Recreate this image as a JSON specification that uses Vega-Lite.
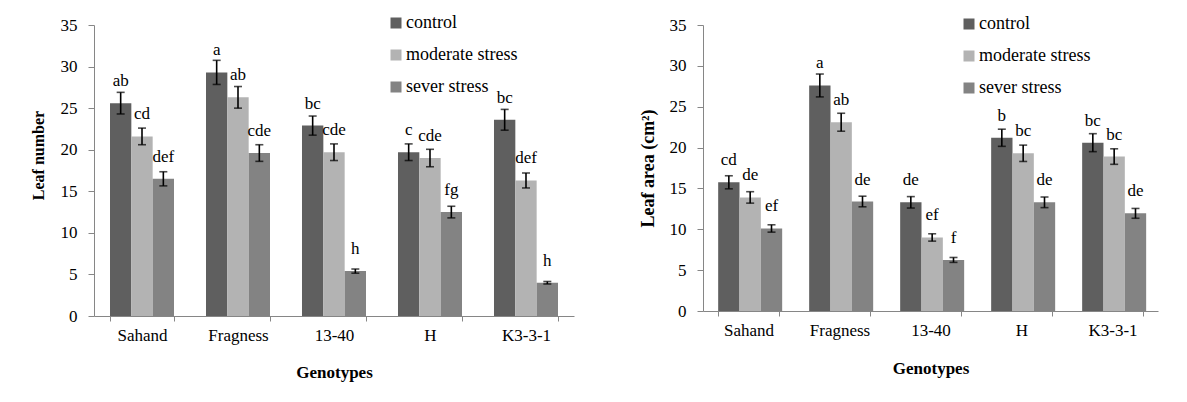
{
  "$schema": "https://vega.github.io/schema/vega-lite/v6.json",
  "background": "white",
  "padding": {"left": 30, "top": 14, "right": 5, "bottom": 5},
  "spacing": 65,
  "config": {
    "view": {"stroke": null},
    "font": "Times New Roman, Liberation Serif, serif",
    "axis": {"grid": false, "domainColor": "#868686", "tickColor": "#868686", "labelColor": "black", "titleColor": "black", "labelFont": "Times New Roman, Liberation Serif, serif", "titleFont": "Times New Roman, Liberation Serif, serif"},
    "legend": {"labelFont": "Times New Roman, Liberation Serif, serif"},
    "text": {"font": "Times New Roman, Liberation Serif, serif"}
  },
  "datasets": {
    "leafnumber": [
      {"geno": "Sahand", "treat": "control", "value": 25.6, "err": 1.3, "letter": "ab"},
      {"geno": "Sahand", "treat": "moderate stress", "value": 21.6, "err": 1.0, "letter": "cd"},
      {"geno": "Sahand", "treat": "sever stress", "value": 16.5, "err": 0.85, "letter": "def"},
      {"geno": "Fragness", "treat": "control", "value": 29.3, "err": 1.45, "letter": "a"},
      {"geno": "Fragness", "treat": "moderate stress", "value": 26.3, "err": 1.3, "letter": "ab"},
      {"geno": "Fragness", "treat": "sever stress", "value": 19.6, "err": 1.0, "letter": "cde"},
      {"geno": "13-40", "treat": "control", "value": 22.9, "err": 1.15, "letter": "bc"},
      {"geno": "13-40", "treat": "moderate stress", "value": 19.7, "err": 1.0, "letter": "cde"},
      {"geno": "13-40", "treat": "sever stress", "value": 5.4, "err": 0.25, "letter": "h"},
      {"geno": "H", "treat": "control", "value": 19.7, "err": 1.0, "letter": "c"},
      {"geno": "H", "treat": "moderate stress", "value": 19.0, "err": 1.05, "letter": "cde"},
      {"geno": "H", "treat": "sever stress", "value": 12.5, "err": 0.7, "letter": "fg"},
      {"geno": "K3-3-1", "treat": "control", "value": 23.6, "err": 1.25, "letter": "bc"},
      {"geno": "K3-3-1", "treat": "moderate stress", "value": 16.3, "err": 0.9, "letter": "def"},
      {"geno": "K3-3-1", "treat": "sever stress", "value": 4.0, "err": 0.15, "letter": "h"}
    ],
    "leafarea": [
      {"geno": "Sahand", "treat": "control", "value": 15.75, "err": 0.8, "letter": "cd"},
      {"geno": "Sahand", "treat": "moderate stress", "value": 13.9, "err": 0.7, "letter": "de"},
      {"geno": "Sahand", "treat": "sever stress", "value": 10.1, "err": 0.45, "letter": "ef"},
      {"geno": "Fragness", "treat": "control", "value": 27.6, "err": 1.4, "letter": "a"},
      {"geno": "Fragness", "treat": "moderate stress", "value": 23.1, "err": 1.1, "letter": "ab"},
      {"geno": "Fragness", "treat": "sever stress", "value": 13.4, "err": 0.65, "letter": "de"},
      {"geno": "13-40", "treat": "control", "value": 13.3, "err": 0.7, "letter": "de"},
      {"geno": "13-40", "treat": "moderate stress", "value": 9.0, "err": 0.45, "letter": "ef"},
      {"geno": "13-40", "treat": "sever stress", "value": 6.25, "err": 0.3, "letter": "f"},
      {"geno": "H", "treat": "control", "value": 21.2, "err": 1.05, "letter": "b"},
      {"geno": "H", "treat": "moderate stress", "value": 19.3, "err": 1.0, "letter": "bc"},
      {"geno": "H", "treat": "sever stress", "value": 13.3, "err": 0.65, "letter": "de"},
      {"geno": "K3-3-1", "treat": "control", "value": 20.6, "err": 1.1, "letter": "bc"},
      {"geno": "K3-3-1", "treat": "moderate stress", "value": 18.9, "err": 0.95, "letter": "bc"},
      {"geno": "K3-3-1", "treat": "sever stress", "value": 11.95, "err": 0.6, "letter": "de"}
    ]
  },
  "hconcat": [
    {
      "width": 480,
      "height": 291,
      "data": {"name": "leafnumber"},
      "encoding": {
        "x": {"field": "geno", "type": "nominal", "sort": ["Sahand", "Fragness", "13-40", "H", "K3-3-1"],
          "scale": {"paddingInner": 0.3333, "paddingOuter": 0.1667},
          "axis": {"title": "Genotypes", "labelAngle": 0, "tickBand": "extent", "tickSize": 5, "labelPadding": 6, "labelFontSize": 17, "titleFontSize": 17, "titleFontWeight": "bold", "titleBaseline": "alphabetic", "titleY": 61}},
        "xOffset": {"field": "treat", "type": "nominal", "sort": ["control", "moderate stress", "sever stress"], "scale": {"paddingInner": 0, "paddingOuter": 0}},
        "y": {"field": "value", "type": "quantitative", "scale": {"domain": [0, 35]},
          "axis": {"title": "Leaf number", "values": [0, 5, 10, 15, 20, 25, 30, 35], "tickSize": 6, "labelPadding": 11, "labelFontSize": 17, "titleFontSize": 16, "titleFontWeight": "bold", "titleX": -48, "titleY": 130}}
      },
      "layer": [
        {"mark": {"type": "bar"},
          "encoding": {"color": {"field": "treat", "type": "nominal", "sort": ["control", "moderate stress", "sever stress"],
            "scale": {"domain": ["control", "moderate stress", "sever stress"], "range": ["#5f5f5f", "#b3b3b3", "#838383"]},
            "legend": {"title": null, "orient": "none", "legendX": 293, "legendY": -11, "padding": 0, "symbolType": "square", "symbolSize": 121, "symbolStrokeWidth": 0, "labelFontSize": 18, "labelOffset": 1, "rowPadding": 14, "labelColor": "black"}}}},
        {"mark": {"type": "errorbar", "ticks": {"size": 8, "thickness": 1.6, "color": "black"}, "rule": {"strokeWidth": 1.6, "color": "black"}},
          "encoding": {"yError": {"field": "err"}}},
        {"mark": {"type": "text", "dy": -17, "baseline": "alphabetic", "fontSize": 17, "color": "black"},
          "encoding": {"text": {"field": "letter"}}}
      ]
    },
    {
      "width": 455,
      "height": 286,
      "data": {"name": "leafarea"},
      "encoding": {
        "x": {"field": "geno", "type": "nominal", "sort": ["Sahand", "Fragness", "13-40", "H", "K3-3-1"],
          "scale": {"paddingInner": 0.3333, "paddingOuter": 0.1667},
          "axis": {"title": "Genotypes", "labelAngle": 0, "tickBand": "extent", "tickSize": 5, "labelPadding": 6, "labelFontSize": 17, "titleFontSize": 17, "titleFontWeight": "bold", "titleBaseline": "alphabetic", "titleY": 62}},
        "xOffset": {"field": "treat", "type": "nominal", "sort": ["control", "moderate stress", "sever stress"], "scale": {"paddingInner": 0, "paddingOuter": 0}},
        "y": {"field": "value", "type": "quantitative", "scale": {"domain": [0, 35]},
          "axis": {"title": "Leaf area (cm²)", "values": [0, 5, 10, 15, 20, 25, 30, 35], "tickSize": 6, "labelPadding": 11, "labelFontSize": 17, "titleFontSize": 18, "titleFontWeight": "bold", "titleX": -46}}
      },
      "layer": [
        {"mark": {"type": "bar"},
          "encoding": {"color": {"field": "treat", "type": "nominal", "sort": ["control", "moderate stress", "sever stress"],
            "scale": {"domain": ["control", "moderate stress", "sever stress"], "range": ["#5f5f5f", "#b3b3b3", "#838383"]},
            "legend": {"title": null, "orient": "none", "legendX": 257, "legendY": -10, "padding": 0, "symbolType": "square", "symbolSize": 121, "symbolStrokeWidth": 0, "labelFontSize": 18, "labelOffset": 1, "rowPadding": 14, "labelColor": "black"}}}},
        {"mark": {"type": "errorbar", "ticks": {"size": 8, "thickness": 1.6, "color": "black"}, "rule": {"strokeWidth": 1.6, "color": "black"}},
          "encoding": {"yError": {"field": "err"}}},
        {"mark": {"type": "text", "dy": -17, "baseline": "alphabetic", "fontSize": 17, "color": "black"},
          "encoding": {"text": {"field": "letter"}}}
      ]
    }
  ],
  "resolve": {"scale": {"color": "independent"}, "legend": {"color": "independent"}}
}
